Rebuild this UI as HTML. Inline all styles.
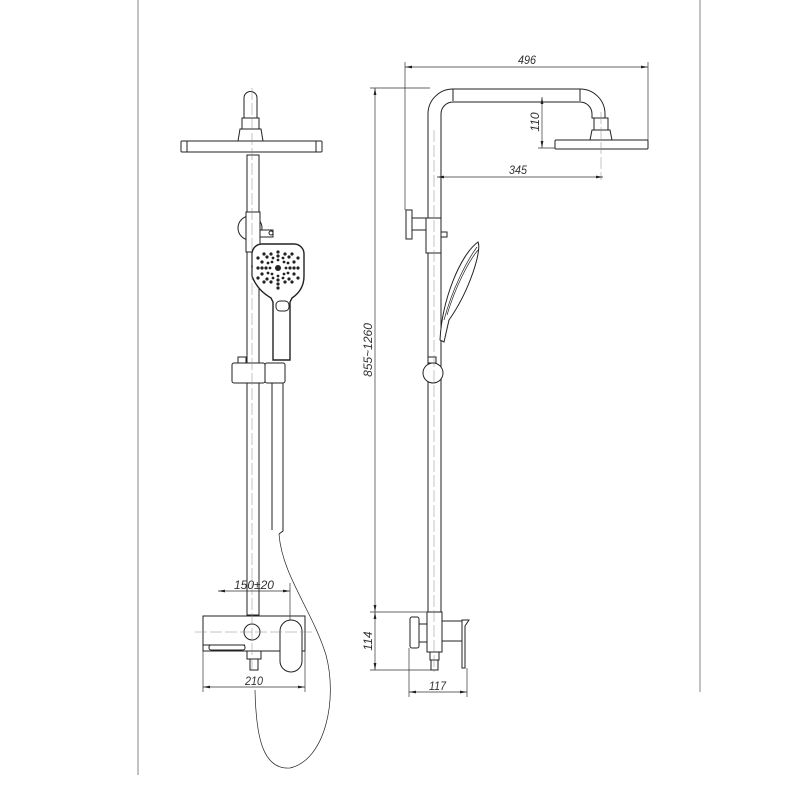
<!DOCTYPE html>
<html><head><meta charset="utf-8"><style>
html,body{margin:0;padding:0;background:#fff;}
svg{display:block}
text{font-family:"Liberation Sans",sans-serif;font-style:italic;font-size:12px;fill:#333}
</style></head><body>
<svg width="800" height="800" viewBox="0 0 800 800" xmlns="http://www.w3.org/2000/svg">
<defs>
<marker id="a" viewBox="0 0 10 4" refX="10" refY="2" markerWidth="10" markerHeight="4" orient="auto-start-reverse"><path d="M0,0L10,2L0,4z" fill="#222"/></marker>
</defs>
<g stroke="#666" stroke-width="0.8" fill="none">
<line x1="138" y1="0" x2="138" y2="775"/>
<line x1="700" y1="0" x2="700" y2="692"/>
</g>
<g stroke="#222" stroke-width="1" fill="#fff">
<path d="M244,120 V98 a6.5,6.5 0 0 1 13,0 V120"/>
<rect x="242" y="118" width="17" height="11"/>
<path d="M240,129 h21 l2,12 h-25z"/>
<rect x="181" y="141" width="141" height="11" rx="1"/>
<line x1="187" y1="141" x2="187" y2="152"/><line x1="316" y1="141" x2="316" y2="152"/>
<circle cx="250" cy="228" r="12"/>
<rect x="247" y="155" width="12" height="460"/>
<rect x="246" y="212" width="14" height="40"/>
<rect x="260" y="230" width="13" height="7"/>
<circle cx="271" cy="233" r="2"/>
<path d="M262,244 h32 a10,10 0 0 1 10,10 v22 q0,14 -12,22 l-2,4 v58 h-17 v-58 l-2,-4 q-14,-8 -19,-22 v-22 a10,10 0 0 1 10,-10z" stroke-width="1.4"/>
<rect x="276" y="301" width="13" height="10" rx="4"/>
<rect x="232" y="363" width="33" height="20" rx="2"/>
<rect x="265" y="363" width="20" height="20" rx="2"/>
<rect x="238" y="357" width="8" height="6"/>
<path d="M272,383 V530 M283,383 V531 L279,534"/>
<path d="M279,534 C282,575 312,610 326,655 C338,700 325,760 290,768 C262,770 256,735 255,690" fill="none" stroke-width="0.7"/>
<rect x="203" y="616" width="102" height="35"/>
<line x1="203" y1="645" x2="245" y2="645"/>
<rect x="209" y="645" width="36" height="5" rx="2"/>
<circle cx="252" cy="632" r="8"/>
<rect x="280" y="620" width="22" height="52" rx="11"/>
<rect x="247" y="651" width="14" height="8"/>
<rect x="250" y="659" width="8" height="11"/>
</g>
<g fill="#222">
<circle cx="278" cy="268" r="3"/>
<circle cx="262" cy="268" r="1.6"/><circle cx="266" cy="268" r="1.6"/><circle cx="258" cy="268" r="1.6"/><circle cx="270" cy="268" r="1.4"/>
<circle cx="294" cy="268" r="1.6"/><circle cx="290" cy="268" r="1.6"/><circle cx="298" cy="268" r="1.6"/><circle cx="286" cy="268" r="1.4"/>
<circle cx="278" cy="252" r="1.6"/><circle cx="278" cy="256" r="1.6"/><circle cx="278" cy="260" r="1.4"/><circle cx="278" cy="276" r="1.4"/><circle cx="278" cy="284" r="1.6"/><circle cx="278" cy="288" r="1.6"/><circle cx="278" cy="280" r="1.6"/>
<circle cx="267" cy="257" r="1.6"/><circle cx="264" cy="254" r="1.6"/><circle cx="289" cy="257" r="1.6"/><circle cx="292" cy="254" r="1.6"/>
<circle cx="267" cy="279" r="1.6"/><circle cx="264" cy="282" r="1.6"/><circle cx="289" cy="279" r="1.6"/><circle cx="292" cy="282" r="1.6"/>
<circle cx="271" cy="254" r="1.6"/><circle cx="285" cy="254" r="1.6"/><circle cx="271" cy="282" r="1.6"/><circle cx="285" cy="282" r="1.6"/>
<circle cx="262" cy="262" r="1.6"/><circle cx="294" cy="262" r="1.6"/><circle cx="262" cy="274" r="1.6"/><circle cx="294" cy="274" r="1.6"/>
<circle cx="258" cy="258" r="1.6"/><circle cx="298" cy="258" r="1.6"/><circle cx="258" cy="278" r="1.6"/><circle cx="298" cy="278" r="1.6"/>
<circle cx="272" cy="262" r="1.4"/><circle cx="284" cy="262" r="1.4"/><circle cx="272" cy="274" r="1.4"/><circle cx="284" cy="274" r="1.4"/>
<circle cx="268" cy="263" r="1.4"/><circle cx="288" cy="263" r="1.4"/><circle cx="268" cy="273" r="1.4"/><circle cx="288" cy="273" r="1.4"/>
<circle cx="273" cy="258" r="1.4"/><circle cx="283" cy="258" r="1.4"/><circle cx="273" cy="278" r="1.4"/><circle cx="283" cy="278" r="1.4"/>
</g>
<g stroke="#888" stroke-width="0.5" fill="none" stroke-dasharray="12,3">
<line x1="252" y1="88" x2="252" y2="672"/>
<line x1="195" y1="632" x2="312" y2="632"/>
</g>
<g stroke="#333" stroke-width="0.7" fill="none">
<line x1="218" y1="591" x2="290" y2="591" marker-start="url(#a)" marker-end="url(#a)"/>
<line x1="290" y1="583" x2="290" y2="620"/>
<line x1="203" y1="687" x2="305" y2="687" marker-start="url(#a)" marker-end="url(#a)"/>
<line x1="203" y1="651" x2="203" y2="692"/><line x1="305" y1="651" x2="305" y2="692"/>
</g>
<text x="234" y="589" textLength="40" lengthAdjust="spacingAndGlyphs">150±20</text>
<text x="245" y="685" textLength="18" lengthAdjust="spacingAndGlyphs">210</text>
<g stroke="#222" stroke-width="1" fill="#fff">
<path d="M428,612 V114 a25,25 0 0 1 25,-25 H580 a25,25 0 0 1 25,25 v4 h-13 v-4 a12,12 0 0 0 -12,-12 H453 a12,12 0 0 0 -12,12 V612"/>
<line x1="453" y1="89" x2="453" y2="101"/><line x1="580" y1="89" x2="580" y2="101"/>
<rect x="594" y="118" width="14" height="12"/>
<path d="M592,130 h18 l2,10 h-22z"/>
<rect x="555" y="140" width="93" height="9" rx="1"/>
<rect x="406" y="210" width="6" height="29"/>
<rect x="412" y="218" width="14" height="12"/>
<rect x="426" y="218" width="15" height="35"/>
<rect x="441" y="232" width="6" height="5"/>
<path d="M440,340 C442,300 460,255 478,242 C482,250 470,290 449,320 L444,342z"/>
<path d="M444,320 C452,290 466,262 477,247 M447,315 C455,288 468,262 478,250" fill="none" stroke-width="0.7"/>
<circle cx="433" cy="373" r="10"/>
<rect x="428" y="357" width="8" height="6"/>
<rect x="410" y="617" width="9" height="31" rx="2"/>
<rect x="419" y="624" width="9" height="18"/>
<rect x="427" y="612" width="15" height="40"/>
<rect x="442" y="621" width="20" height="20"/>
<path d="M462,620 h7 l-4,6 v42 h-3z"/>
<rect x="430" y="652" width="9" height="8"/>
<rect x="431" y="660" width="7" height="10"/>
</g>
<g stroke="#888" stroke-width="0.5" fill="none" stroke-dasharray="12,3">
<line x1="434" y1="130" x2="434" y2="672"/>
<line x1="601" y1="112" x2="601" y2="180"/>
</g>
<g stroke="#333" stroke-width="0.7" fill="none">
<line x1="405" y1="67" x2="648" y2="67" marker-start="url(#a)" marker-end="url(#a)"/>
<line x1="405" y1="62" x2="405" y2="210"/><line x1="648" y1="62" x2="648" y2="140"/>
<line x1="542" y1="97" x2="542" y2="148" marker-start="url(#a)" marker-end="url(#a)"/>
<line x1="538" y1="148" x2="555" y2="148"/>
<line x1="437" y1="177" x2="603" y2="177" marker-start="url(#a)" marker-end="url(#a)"/>
<line x1="375" y1="88" x2="375" y2="612" marker-start="url(#a)" marker-end="url(#a)"/>
<line x1="370" y1="88" x2="430" y2="88"/>
<line x1="370" y1="612" x2="428" y2="612"/>
<line x1="375" y1="612" x2="375" y2="670" marker-start="url(#a)" marker-end="url(#a)"/>
<line x1="370" y1="670" x2="432" y2="670"/>
<line x1="409" y1="692" x2="467" y2="692" marker-start="url(#a)" marker-end="url(#a)"/>
<line x1="409" y1="648" x2="409" y2="697"/><line x1="467" y1="668" x2="467" y2="697"/>
</g>
<text x="518" y="64" textLength="18" lengthAdjust="spacingAndGlyphs">496</text>
<text x="509" y="174" textLength="18" lengthAdjust="spacingAndGlyphs">345</text>
<text x="429" y="690" textLength="17" lengthAdjust="spacingAndGlyphs">117</text>
<text transform="translate(539,122) rotate(-90)" text-anchor="middle">110</text>
<text transform="translate(372,350) rotate(-90)" text-anchor="middle">855~1260</text>
<text transform="translate(372,641) rotate(-90)" text-anchor="middle">114</text>
</svg>
</body></html>
